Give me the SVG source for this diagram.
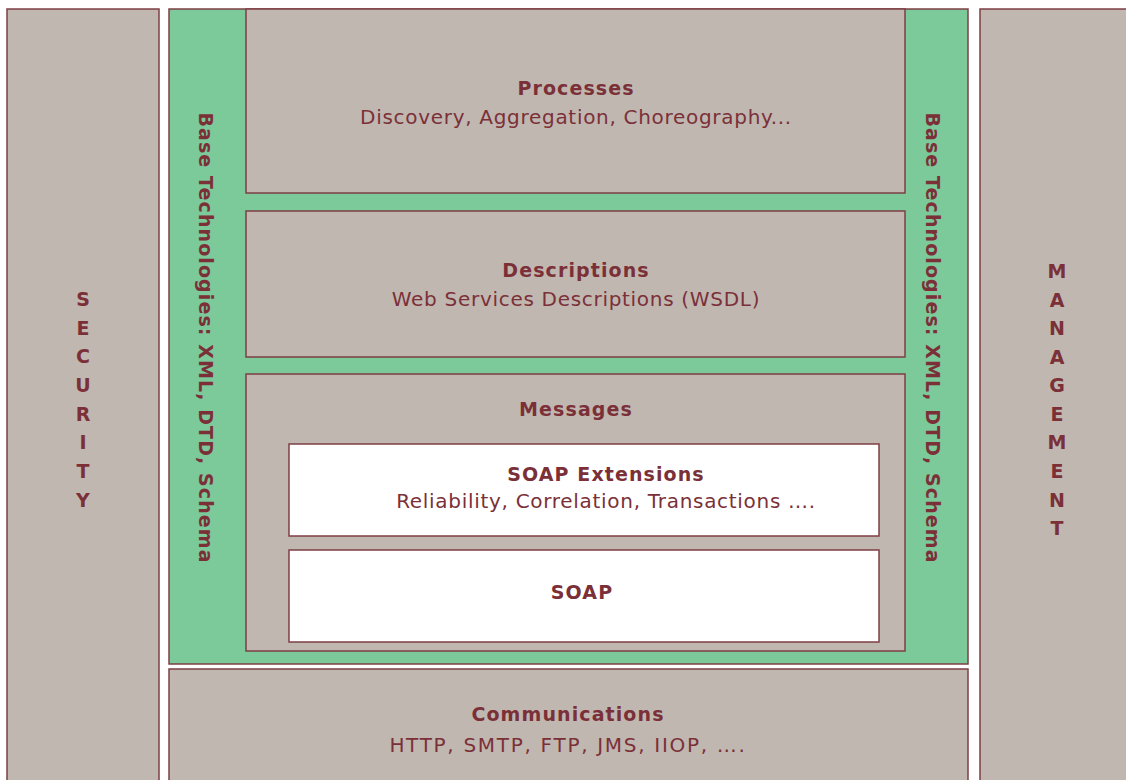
<svg xmlns="http://www.w3.org/2000/svg" width="1126" height="780" viewBox="0 0 1126 780">
<style>
.box{fill:#c1b7b1;stroke:#7d3f44;stroke-width:1.5}
.green{fill:#7cc99a;stroke:#7d3f44;stroke-width:1.5}
.white{fill:#ffffff;stroke:#7d3f44;stroke-width:1.5}
.t{font-family:"DejaVu Sans","Liberation Sans",sans-serif;font-size:19px;font-weight:bold;fill:#7b3038;text-anchor:middle;letter-spacing:1.1px}
.s{font-family:"DejaVu Sans","Liberation Sans",sans-serif;font-size:20px;fill:#7b3038;text-anchor:middle;letter-spacing:0.7px}
.v{font-family:"DejaVu Sans","Liberation Sans",sans-serif;font-size:19px;font-weight:bold;fill:#7b3038;text-anchor:middle}
</style>
<rect width="1126" height="780" fill="#ffffff"/>
<g id="security">
<rect class="box" x="7" y="9" width="152" height="790"/>
<text class="v" x="83" y="306">S</text>
<text class="v" x="83" y="335">E</text>
<text class="v" x="83" y="363">C</text>
<text class="v" x="83" y="392">U</text>
<text class="v" x="83" y="421">R</text>
<text class="v" x="83" y="449">I</text>
<text class="v" x="83" y="478">T</text>
<text class="v" x="83" y="507">Y</text>
</g>
<g id="base-technologies">
<rect class="green" x="169" y="9" width="799" height="655"/>
<text class="t" transform="translate(199,338) rotate(90)" x="0" y="0">Base Technologies: XML, DTD, Schema</text>
<text class="t" transform="translate(926,338) rotate(90)" x="0" y="0">Base Technologies: XML, DTD, Schema</text>
</g>
<g id="processes">
<rect class="box" x="246" y="9" width="659" height="184"/>
<text class="t" x="576" y="95">Processes</text>
<text class="s" x="576" y="124">Discovery, Aggregation, Choreography...</text>
</g>
<g id="descriptions">
<rect class="box" x="246" y="211" width="659" height="146"/>
<text class="t" x="576" y="277">Descriptions</text>
<text class="s" x="576" y="306">Web Services Descriptions (WSDL)</text>
</g>
<g id="messages">
<rect class="box" x="246" y="374" width="659" height="277"/>
<text class="t" x="576" y="416">Messages</text>
</g>
<g id="soap-extensions">
<rect class="white" x="289" y="444" width="590" height="92"/>
<text class="t" x="606" y="481">SOAP Extensions</text>
<text class="s" x="606" y="508">Reliability, Correlation, Transactions ….</text>
</g>
<g id="soap">
<rect class="white" x="289" y="550" width="590" height="92"/>
<text class="t" x="582" y="599">SOAP</text>
</g>
<g id="communications">
<rect class="box" x="169" y="669" width="799" height="130"/>
<text class="t" x="568" y="721">Communications</text>
<text class="s" x="568" y="752" style="letter-spacing:1.7px">HTTP, SMTP, FTP, JMS, IIOP, ….</text>
</g>
<g id="management">
<rect class="box" x="980" y="9" width="160" height="790"/>
<text class="v" x="1057" y="278">M</text>
<text class="v" x="1057" y="307">A</text>
<text class="v" x="1057" y="335">N</text>
<text class="v" x="1057" y="364">A</text>
<text class="v" x="1057" y="392">G</text>
<text class="v" x="1057" y="421">E</text>
<text class="v" x="1057" y="449">M</text>
<text class="v" x="1057" y="478">E</text>
<text class="v" x="1057" y="507">N</text>
<text class="v" x="1057" y="535">T</text>
</g>
<g id="connectors"></g>
</svg>
